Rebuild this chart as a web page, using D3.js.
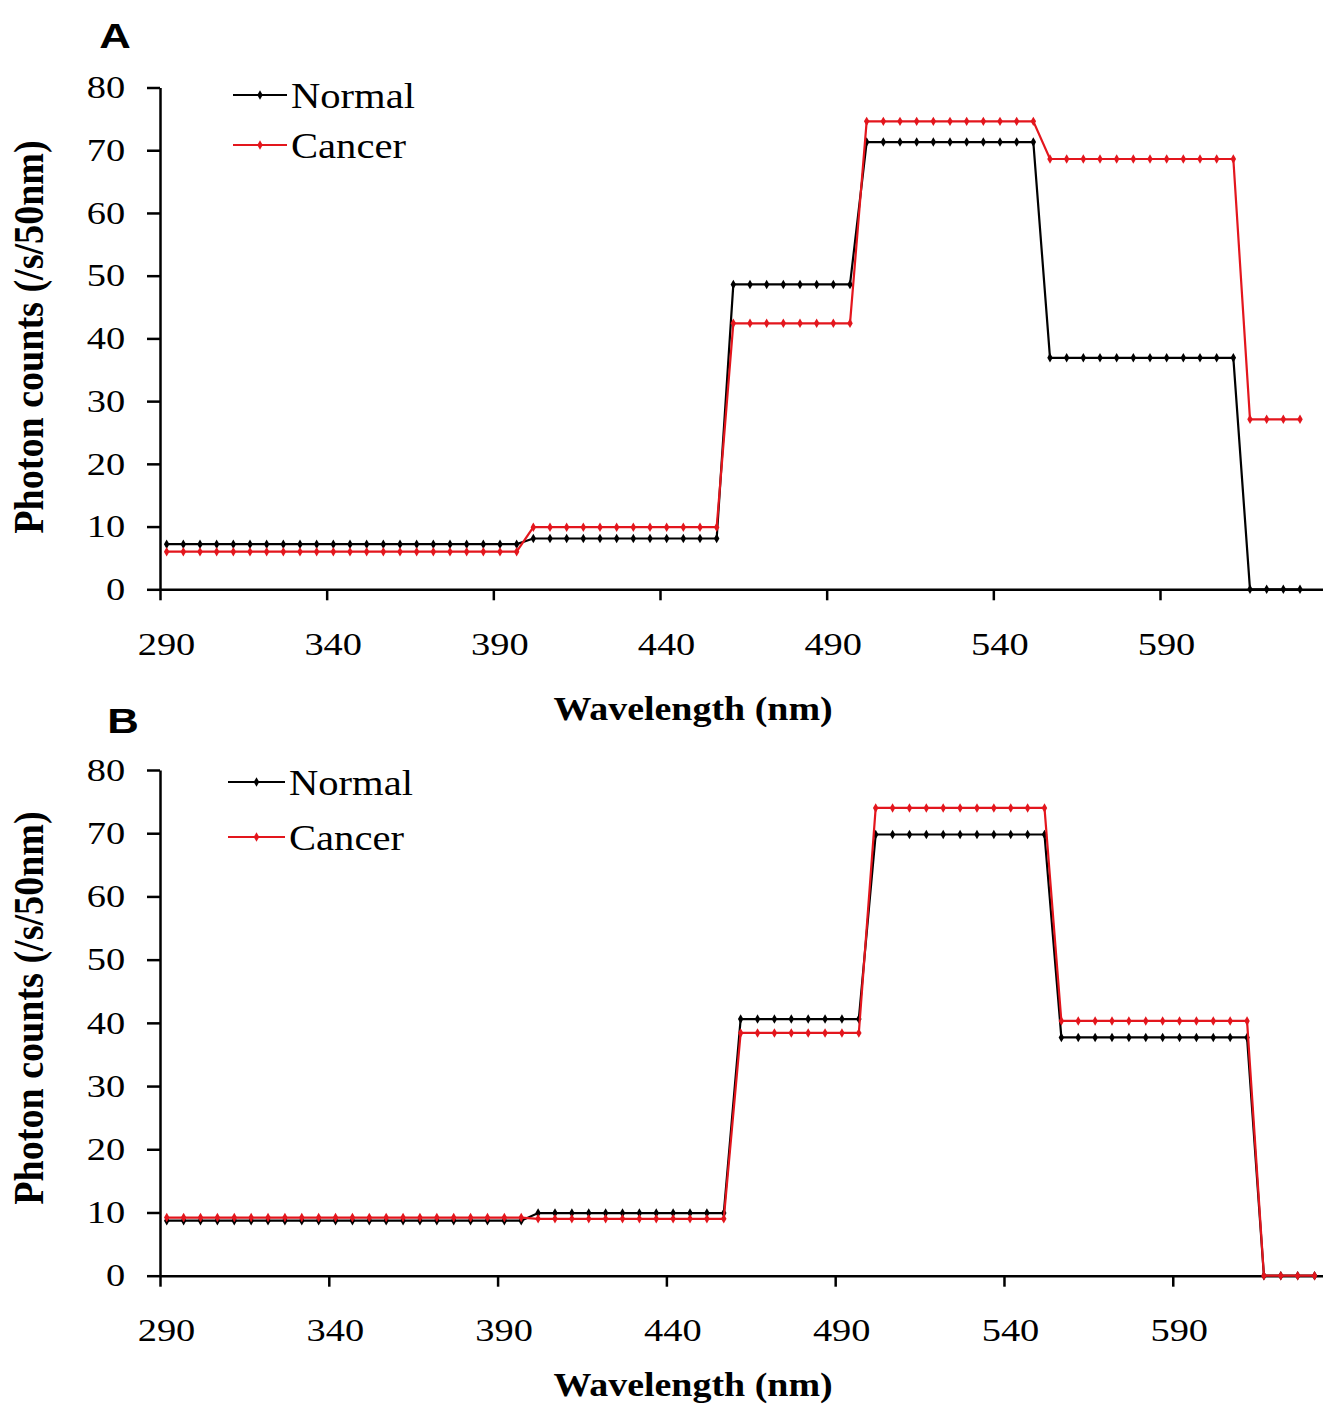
<!DOCTYPE html>
<html>
<head>
<meta charset="utf-8">
<script src="https://cdn.jsdelivr.net/npm/d3@7"></script>
<style>
  body { margin: 0; background: #fff; }
  #svgRoot { width: 1323px; height: 1407px; display: block; background: #fff; }
</style>
</head>
<body>
<svg id="svgRoot" width="1323" height="1407"></svg>
<script>

// wavelength of every measured point (nm)
let wavelength = [
  292, 297, 302, 307, 312, 317, 322, 327, 332, 337, 342, 347, 352, 357, 362, 367, 372, 377, 382, 387, 392, 397,
  402, 407, 412, 417, 422, 427, 432, 437, 442, 447, 452, 457,
  462, 467, 472, 477, 482, 487, 492, 497,
  502, 507, 512, 517, 522, 527, 532, 537, 542, 547, 552,
  557, 562, 567, 572, 577, 582, 587, 592, 597, 602, 607, 612,
  617, 622, 627, 632
]

// panel A
let normal_a = [
  7.2, 7.2, 7.2, 7.2, 7.2, 7.2, 7.2, 7.2, 7.2, 7.2, 7.2, 7.2, 7.2, 7.2, 7.2, 7.2, 7.2, 7.2, 7.2, 7.2, 7.2, 7.2,
  8.1, 8.1, 8.1, 8.1, 8.1, 8.1, 8.1, 8.1, 8.1, 8.1, 8.1, 8.1,
  48.6, 48.6, 48.6, 48.6, 48.6, 48.6, 48.6, 48.6,
  71.3, 71.3, 71.3, 71.3, 71.3, 71.3, 71.3, 71.3, 71.3, 71.3, 71.3,
  36.9, 36.9, 36.9, 36.9, 36.9, 36.9, 36.9, 36.9, 36.9, 36.9, 36.9, 36.9,
  0, 0, 0, 0
]
let cancer_a = [
  6.0, 6.0, 6.0, 6.0, 6.0, 6.0, 6.0, 6.0, 6.0, 6.0, 6.0, 6.0, 6.0, 6.0, 6.0, 6.0, 6.0, 6.0, 6.0, 6.0, 6.0, 6.0,
  9.9, 9.9, 9.9, 9.9, 9.9, 9.9, 9.9, 9.9, 9.9, 9.9, 9.9, 9.9,
  42.4, 42.4, 42.4, 42.4, 42.4, 42.4, 42.4, 42.4,
  74.6, 74.6, 74.6, 74.6, 74.6, 74.6, 74.6, 74.6, 74.6, 74.6, 74.6,
  68.6, 68.6, 68.6, 68.6, 68.6, 68.6, 68.6, 68.6, 68.6, 68.6, 68.6, 68.6,
  27.1, 27.1, 27.1, 27.1
]

// panel B
let normal_b = [
  8.7, 8.7, 8.7, 8.7, 8.7, 8.7, 8.7, 8.7, 8.7, 8.7, 8.7, 8.7, 8.7, 8.7, 8.7, 8.7, 8.7, 8.7, 8.7, 8.7, 8.7, 8.7,
  9.9, 9.9, 9.9, 9.9, 9.9, 9.9, 9.9, 9.9, 9.9, 9.9, 9.9, 9.9,
  40.6, 40.6, 40.6, 40.6, 40.6, 40.6, 40.6, 40.6,
  69.8, 69.8, 69.8, 69.8, 69.8, 69.8, 69.8, 69.8, 69.8, 69.8, 69.8,
  37.7, 37.7, 37.7, 37.7, 37.7, 37.7, 37.7, 37.7, 37.7, 37.7, 37.7, 37.7,
  0, 0, 0, 0
]
let cancer_b = [
  9.2, 9.2, 9.2, 9.2, 9.2, 9.2, 9.2, 9.2, 9.2, 9.2, 9.2, 9.2, 9.2, 9.2, 9.2, 9.2, 9.2, 9.2, 9.2, 9.2, 9.2, 9.2,
  9.0, 9.0, 9.0, 9.0, 9.0, 9.0, 9.0, 9.0, 9.0, 9.0, 9.0, 9.0,
  38.4, 38.4, 38.4, 38.4, 38.4, 38.4, 38.4, 38.4,
  74.0, 74.0, 74.0, 74.0, 74.0, 74.0, 74.0, 74.0, 74.0, 74.0, 74.0,
  40.3, 40.3, 40.3, 40.3, 40.3, 40.3, 40.3, 40.3, 40.3, 40.3, 40.3, 40.3,
  0, 0, 0, 0
]

let series_names = ["Normal", "Cancer"]
let panel_labels = ["A", "B"]
let x_ticks = [290, 340, 390, 440, 490, 540, 590]
let y_ticks = [0, 10, 20, 30, 40, 50, 60, 70, 80]
let x_title = "Wavelength (nm)"
let y_title = "Photon counts (/s/50nm)"

const colors = ["#000000", "#e3161d"]
const serif = "'Liberation Serif', 'Times New Roman', serif"
const sans = "'Liberation Sans', Arial, sans-serif"

// horizontal stretch of the original picture
const sx_tick = 1.2
const sx_legend = 1.16

function draw_panel(svg, p) {
  let g = svg.append("g").attr("class", "panel")

  let scale_x = d3.scaleLinear().domain([290, p.x_max]).range([160, 1323])
  let scale_y = d3.scaleLinear().domain([0, 80]).range([p.y0, p.y80])

  // axes
  let g_xAxis = g.append("g")
    .attr("transform", "translate(0, " + p.y0 + ")")
    .call(d3.axisBottom(scale_x).tickValues(x_ticks).tickSize(11).tickSizeOuter(0).tickPadding(p.x_pad))

  let g_yAxis = g.append("g")
    .attr("transform", "translate(160, 0)")
    .call(d3.axisLeft(scale_y).tickValues(y_ticks).tickSize(13).tickSizeOuter(0).tickPadding(16))

  for (let ax of [g_xAxis, g_yAxis]) {
    ax.attr("font-family", serif).attr("font-size", 32)
    ax.select(".domain").attr("stroke", "#000").attr("stroke-width", 2.5)
    ax.selectAll(".tick line").attr("stroke", "#000").attr("stroke-width", 2.5)
    ax.selectAll(".tick text").attr("fill", "#000").attr("transform", "scale(" + sx_tick + ",1)")
  }
  g_xAxis.selectAll(".tick text").attr("x", 6 / sx_tick)

  // series, normal first then cancer on top
  let line = d3.line()
    .x((d) => scale_x(d[0]))
    .y((d) => scale_y(d[1]))

  let diamond = d3.symbol().type(d3.symbolDiamond).size(26)

  p.series.forEach((values, i) => {
    let pts = wavelength.map((w, k) => [w, values[k]])
    g.append("path")
      .attr("d", line(pts))
      .attr("fill", "none")
      .attr("stroke", colors[i])
      .attr("stroke-width", 2.2)

    g.append("g").selectAll("path")
      .data(pts)
      .enter()
      .append("path")
      .attr("d", diamond)
      .attr("transform", (d) => "translate(" + scale_x(d[0]) + "," + scale_y(d[1]) + ")")
      .attr("fill", colors[i])
  })

  // legend
  series_names.forEach((name, i) => {
    let ly = p.legend_y[i]
    g.append("line")
      .attr("x1", p.legend_x[0]).attr("x2", p.legend_x[1])
      .attr("y1", ly).attr("y2", ly)
      .attr("stroke", colors[i]).attr("stroke-width", 2.2)
    g.append("path")
      .attr("d", diamond)
      .attr("transform", "translate(" + (p.legend_x[0] + p.legend_x[1]) / 2 + "," + ly + ")")
      .attr("fill", colors[i])
    g.append("text")
      .attr("transform", "translate(" + p.legend_x[2] + "," + (ly + 13) + ") scale(" + sx_legend + ",1)")
      .attr("font-family", serif)
      .attr("font-size", 35)
      .text(name)
  })

  // panel letter
  g.append("text")
    .attr("transform", "translate(" + p.label_pos[0] + "," + p.label_pos[1] + ") scale(1.25,1)")
    .attr("text-anchor", "middle")
    .attr("font-family", sans)
    .attr("font-weight", "bold")
    .attr("font-size", 35)
    .text(p.label)

  // axis titles
  g.append("text")
    .attr("transform", "translate(693," + p.x_title_y + ") scale(1.15,1)")
    .attr("text-anchor", "middle")
    .attr("font-family", serif)
    .attr("font-weight", "bold")
    .attr("font-size", 33)
    .text(x_title)

  g.append("text")
    .attr("transform", "translate(43," + p.y_title_c + ") rotate(-90) scale(1.12,1.25)")
    .attr("text-anchor", "middle")
    .attr("font-family", serif)
    .attr("font-weight", "bold")
    .attr("font-size", 34)
    .text(y_title)
}

function draw_vis() {
  let svg = d3.select("#svgRoot")

  draw_panel(svg, {
    label: panel_labels[0],
    series: [normal_a, cancer_a],
    y0: 589.3, y80: 87.5, x_max: 638.9, x_pad: 32,
    legend_x: [233, 287, 291], legend_y: [95, 145],
    label_pos: [115, 48],
    x_title_y: 720, y_title_c: 337
  })

  draw_panel(svg, {
    label: panel_labels[1],
    series: [normal_b, cancer_b],
    y0: 1275.7, y80: 770, x_max: 634.5, x_pad: 32,
    legend_x: [228, 285, 289], legend_y: [782, 837],
    label_pos: [123, 733],
    x_title_y: 1396, y_title_c: 1008
  })
}

draw_vis()
</script>
</body>
</html>
